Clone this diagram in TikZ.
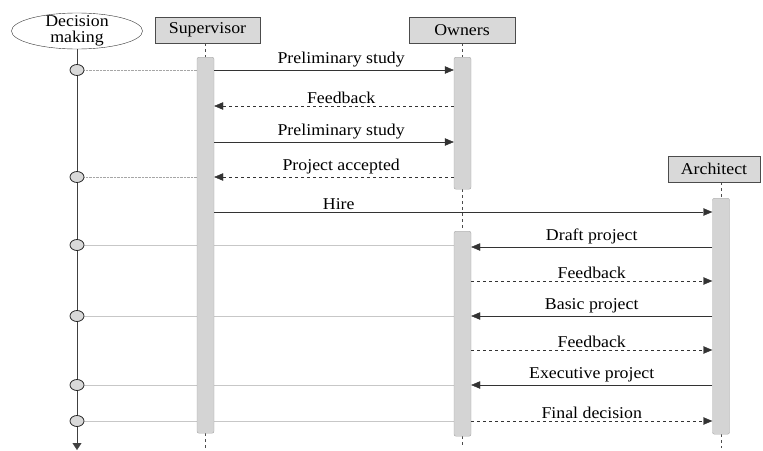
\documentclass[tikz,border=0pt]{standalone}
\usepackage{fontspec}
\setmainfont[FakeStretch=1.08]{Liberation Serif}
\usetikzlibrary{arrows.meta,shapes.geometric,backgrounds}

\begin{document}
\begin{tikzpicture}[x=1pt, y=-1pt, font=\fontsize{16.5}{16}\selectfont,
        actor/.style={draw=black!70, fill=black!15, minimum height=26pt, inner sep=0pt},
        actbar/.style={draw=black!35, fill=black!17, rounded corners=2pt, minimum width=17pt, anchor=north, inner sep=0pt},
        lifeline/.style={dashed, draw=black!70},
        msg/.style={-{Triangle[length=9pt,width=7.5pt]}, draw=black!80},
        reply/.style={msg, dashed},
        lbl/.style={above, inner sep=2.5pt, text=black},
        tie/.style={draw=black!22},
        dtie/.style={draw=black!35, densely dotted},
        dot/.style={ellipse, draw=black!85, fill=black!15, thick, minimum width=14pt, minimum height=11pt, inner sep=0pt}]
        \useasboundingbox (0,0) rectangle (763,450);
        \coordinate (bottom) at (0,448);

        % actors
        \node[ellipse, draw=black!80, minimum width=131pt, minimum height=36pt] (dm) at (77,31) {};
        \node[align=center] (dmtext) at (dm) {Decision\\making};
        \node[actor, minimum width=105pt] (sup) at (207.5,30) {Supervisor};
        \node[actor, minimum width=106pt] (own) at (462,30) {Owners};
        \node[actor, minimum width=92pt] (arc) at (714,169) {Architect};

        % activation bars
        \node[actbar, minimum height=376pt] (supbar) at (205.5,57) {};
        \node[actbar, minimum height=132pt] (own1) at (462.5,57) {};
        \node[actbar, minimum height=205pt] (own2) at (462.5,231) {};
        \node[actbar, minimum height=236pt] (arcbar) at (721,198) {};

        % decision points
        \coordinate (dmend) at (77,450);
        \draw[black!75, -{Triangle[length=7pt,width=9pt]}] (dm) -- (dmend);
        \node[dot] (d1) at (77,70) {};
        \node[dot] (d2) at (77,177) {};
        \node[dot] (d3) at (77,245) {};
        \node[dot] (d4) at (77,316) {};
        \node[dot] (d5) at (77,385) {};
        \node[dot] (d6) at (77,421) {};

        \begin{scope}[on background layer]
            \draw[lifeline] (sup.south -| supbar) -- (supbar.north);
            \draw[lifeline] (supbar.south) -- (supbar |- bottom);
            \draw[lifeline] (own.south -| own1) -- (own1.north);
            \draw[lifeline] (own1.south) -- (own2.north);
            \draw[lifeline] (own2.south) -- (own2 |- bottom);
            \draw[lifeline] (arc.south -| arcbar) -- (arcbar.north);
            \draw[lifeline] (arcbar.south) -- (arcbar |- bottom);
            \draw[dtie] (d1) -- (supbar.west |- d1);
            \draw[dtie] (d2) -- (supbar.west |- d2);
            \draw[tie] (d3) -- (own2.west |- d3);
            \draw[tie] (d4) -- (own2.west |- d4);
            \draw[tie] (d5) -- (own2.west |- d5);
            \draw[tie] (d6) -- (own2.west |- d6);
        \end{scope}

        % messages
        \draw[msg] (supbar.east |- d1) -- node[lbl, pos=.53] {Preliminary study} (own1.west |- d1);
        \draw[reply] (own1.west |- 0,106) -- node[lbl, pos=.47] {Feedback} (supbar.east |- 0,106);
        \draw[msg] (supbar.east |- 0,142) -- node[lbl, pos=.53] {Preliminary study} (own1.west |- 0,142);
        \draw[reply] (own1.west |- d2) -- node[lbl, pos=.47] {Project accepted} (supbar.east |- d2);
        \draw[msg] (supbar.east |- 0,212) -- node[lbl, pos=.25] {Hire} (arcbar.west |- 0,212);
        \draw[msg] (arcbar.west |- 0,247) -- node[lbl] {Draft project} (own2.east |- 0,247);
        \draw[reply] (own2.east |- 0,281) -- node[lbl] {Feedback} (arcbar.west |- 0,281);
        \draw[msg] (arcbar.west |- d4) -- node[lbl] {Basic project} (own2.east |- d4);
        \draw[reply] (own2.east |- 0,350) -- node[lbl] {Feedback} (arcbar.west |- 0,350);
        \draw[msg] (arcbar.west |- d5) -- node[lbl] {Executive project} (own2.east |- d5);
        \draw[reply] (own2.east |- d6) -- node[lbl] {Final decision} (arcbar.west |- d6);
    \end{tikzpicture}
\end{document}
